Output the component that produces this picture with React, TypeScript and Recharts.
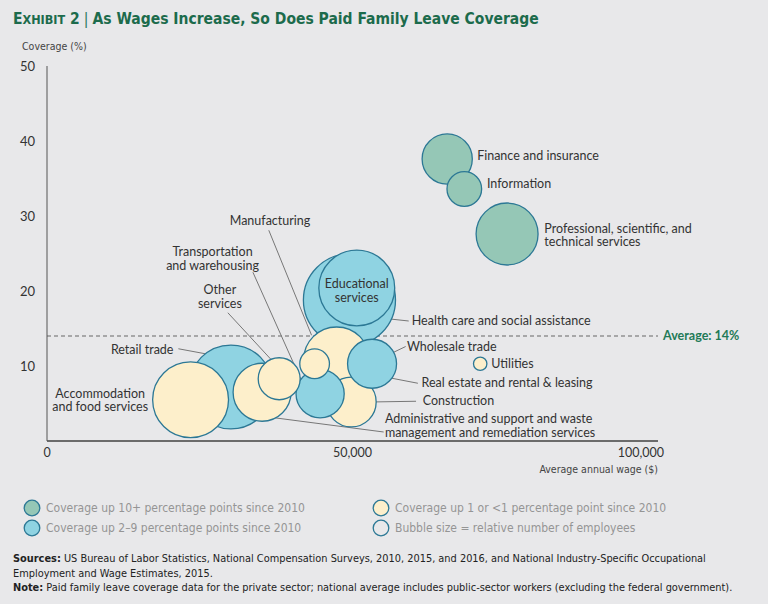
import React from 'react'
import {
  ScatterChart,
  Scatter,
  XAxis,
  YAxis,
  ZAxis,
  Cell,
  ReferenceLine,
  ReferenceDot,
} from 'recharts'

// draw order: back to front
const industries = [
  'Health care and social assistance',
  'Educational services',
  'Manufacturing',
  'Construction',
  'Transportation and warehousing',
  'Wholesale trade',
  'Real estate and rental & leasing',
  'Retail trade',
  'Accommodation and food services',
  'Administrative and support and waste management and remediation services',
  'Other services',
  'Finance and insurance',
  'Information',
  'Professional, scientific, and technical services',
  'Utilities',
]
const wages = [49500, 50700, 47400, 49800, 44700, 53200, 43800, 30100, 23500, 35200, 38000, 65500, 68300, 75300, 70900]
const coverage = [18.8, 20.4, 10.8, 5.2, 6.3, 10.3, 10.3, 7.2, 5.5, 6.5, 8.3, 37.6, 33.6, 27.6, 10.3]
// relative number of employees (bubble area)
const employees = [21.2, 14.4, 10.9, 6.2, 5.8, 6.0, 2.2, 17.6, 14.4, 8.4, 4.4, 6.3, 3.0, 9.6, 0.45]
const trend = ['2-9', '2-9', '1', '1', '2-9', '2-9', '1', '2-9', '1', '1', '1', '10+', '10+', '10+', '1']

const xTicks = [0, 50000, 100000]
const yTicks = [10, 20, 30, 40, 50]
const average = 14

const legendItems = [
  { key: '10+', text: 'Coverage up 10+ percentage points since 2010' },
  { key: '2-9', text: 'Coverage up 2–9 percentage points since 2010' },
  { key: '1', text: 'Coverage up 1 or <1 percentage point since 2010' },
  { key: 'size', text: 'Bubble size = relative number of employees' },
]

const FILL: Record<string, string> = {
  '10+': '#95c7b6',
  '2-9': '#8fd3e2',
  '1': '#fdefcb',
  size: 'none',
}
const STROKE = '#2c7895'

const FONT = 'Lato, "Open Sans", sans-serif'
const NARROW = '"Liberation Sans Narrow", "DejaVu Sans Condensed", sans-serif'

// annotation layout, in chart data coordinates
const annotations = [
  { lines: ['Finance and insurance'], x: 70400, y: 38.0, anchor: 'start' },
  { lines: ['Information'], x: 72000, y: 34.3, anchor: 'start' },
  { lines: ['Professional, scientific, and', 'technical services'], x: 81400, y: 28.3, anchor: 'start' },
  { lines: ['Health care and social assistance'], x: 59700, y: 16.0, anchor: 'start', from: [55800, 16.3], to: [59200, 16.0] },
  { lines: ['Wholesale trade'], x: 58900, y: 12.5, anchor: 'start', from: [56400, 11.7], to: [58700, 12.6] },
  { lines: ['Utilities'], x: 72700, y: 10.3, anchor: 'start' },
  { lines: ['Real estate and rental & leasing'], x: 61300, y: 7.7, anchor: 'start', from: [45400, 10.1], to: [60700, 7.7] },
  { lines: ['Construction'], x: 61500, y: 5.3, anchor: 'start', from: [52800, 5.2], to: [60400, 5.3] },
  { lines: ['Administrative and support and waste', 'management and remediation services'], x: 55300, y: 2.9, anchor: 'start', from: [37200, 3.1], to: [55100, 1.2] },
  { lines: ['Manufacturing'], x: 36500, y: 29.3, anchor: 'middle', from: [36300, 28.1], to: [43300, 14.1] },
  { lines: ['Transportation', 'and warehousing'], x: 27100, y: 25.2, anchor: 'middle', from: [33700, 22.5], to: [41600, 8.1] },
  { lines: ['Other', 'services'], x: 28300, y: 20.1, anchor: 'middle', from: [29600, 17.1], to: [37200, 10.4] },
  { lines: ['Retail trade'], x: 20700, y: 12.1, anchor: 'end', from: [21500, 12.3], to: [28100, 11.3] },
  { lines: ['Accommodation', 'and food services'], x: 8700, y: 6.3, anchor: 'middle' },
  { lines: ['Educational', 'services'], x: 50700, y: 20.9, anchor: 'middle' },
]

const points = industries.map((name, i) => ({
  name,
  wage: wages[i],
  coverage: coverage[i],
  employees: employees[i],
  trend: trend[i],
}))

function XTick(props: any) {
  const { x, y, payload, index } = props
  const last = index === xTicks.length - 1
  return (
    <text
      x={x + (last ? 6 : 0)}
      y={y + 8}
      textAnchor={last ? 'end' : 'middle'}
      fontSize={12.5}
      fill="#333"
      fontFamily={FONT}
    >
      {payload.value.toLocaleString('en-US')}
    </text>
  )
}

function makeLabel(lines: string[], anchor: string) {
  return (p: any) => (
    <text x={p.cx} y={p.cy} textAnchor={anchor} fontSize={12.5} fill="#333" fontFamily={FONT}>
      {lines.map((l, i) => (
        <tspan key={i} x={p.cx} dy={i === 0 ? 4 : 13.5}>
          {l}
        </tspan>
      ))}
    </text>
  )
}

export default function App() {
  return (
    <div
      style={{
        position: 'absolute',
        left: 0,
        top: 0,
        width: 768,
        height: 604,
        background: '#e8e8ea',
        overflow: 'hidden',
        fontFamily: FONT,
      }}
    >
      <div
        style={{
          position: 'absolute',
          left: 13,
          top: 10,
          fontFamily: NARROW,
          fontWeight: 700,
          fontSize: 15.5,
          color: '#1c6b4c',
          whiteSpace: 'nowrap',
        }}
      >
        <span>E</span>
        <span style={{ fontSize: 12.5 }}>XHIBIT</span> 2
        <span style={{ fontWeight: 400, margin: '0 4px', color: '#2a7a5a' }}>|</span>
        As Wages Increase, So Does Paid Family Leave Coverage
      </div>
      <div style={{ position: 'absolute', left: 22, top: 40, fontSize: 10.5, color: '#444', fontFamily: NARROW }}>
        Coverage (%)
      </div>
      <div style={{ position: 'absolute', right: 110, top: 463, fontSize: 10.5, color: '#444', fontFamily: NARROW }}>
        Average annual wage ($)
      </div>

      <div style={{ position: 'absolute', left: 0, top: 0 }}>
        <ScatterChart width={768} height={604} margin={{ top: 66, right: 110, bottom: 133, left: 17 }}>
          <XAxis
            type="number"
            dataKey="wage"
            domain={[0, 100000]}
            ticks={xTicks}
            tick={<XTick />}
            tickLine={false}
            axisLine={{ stroke: '#6b6b6b', strokeWidth: 2 }}
            height={30}
          />
          <YAxis
            type="number"
            dataKey="coverage"
            domain={[0, 50]}
            ticks={yTicks}
            tickLine={false}
            tickMargin={6}
            axisLine={{ stroke: '#555', strokeWidth: 1 }}
            tick={{ fontSize: 13, fill: '#333', fontFamily: FONT }}
            width={30}
          />
          <ZAxis type="number" dataKey="employees" domain={[0, 25]} range={[0, 7854]} />
          <Scatter data={points} isAnimationActive={false}>
            {points.map((p) => (
              <Cell key={p.name} fill={FILL[p.trend]} stroke={STROKE} strokeWidth={1.3} />
            ))}
          </Scatter>
          <ReferenceLine
            y={average}
            stroke="#666"
            strokeDasharray="4 3"
            label={{
              value: 'Average: 14%',
              position: 'right',
              fill: '#1f7a57',
              fontWeight: 700,
              fontSize: 12.5,
              fontFamily: FONT,
            }}
          />
          {annotations
            .filter((a) => a.from)
            .map((a, i) => (
              <ReferenceLine
                key={'l' + i}
                segment={[
                  { x: a.from![0], y: a.from![1] },
                  { x: a.to![0], y: a.to![1] },
                ]}
                stroke="#777"
                strokeWidth={1}
              />
            ))}
          {annotations.map((a, i) => (
            <ReferenceDot
              key={'t' + i}
              x={a.x}
              y={a.y}
              r={0}
              ifOverflow="visible"
              shape={makeLabel(a.lines, a.anchor)}
            />
          ))}
        </ScatterChart>
      </div>

      {legendItems.map((item, i) => (
        <div
          key={item.key}
          style={{
            position: 'absolute',
            left: i < 2 ? 23 : 372,
            top: 499 + (i % 2) * 20,
            display: 'flex',
            alignItems: 'center',
            fontFamily: NARROW,
            fontSize: 12,
            color: '#959595',
            whiteSpace: 'nowrap',
          }}
        >
          <svg width={18} height={18} style={{ marginRight: 5 }}>
            <circle cx={9} cy={9} r={7.8} fill={FILL[item.key]} stroke={STROKE} strokeWidth={1.3} />
          </svg>
          {item.text}
        </div>
      ))}

      <div
        style={{
          position: 'absolute',
          left: 13,
          top: 552,
          width: 745,
          fontFamily: NARROW,
          fontSize: 10.9,
          lineHeight: '14.5px',
          color: '#222',
        }}
      >
        <b>Sources:</b> US Bureau of Labor Statistics, National Compensation Surveys, 2010, 2015, and 2016, and National
        Industry-Specific Occupational
        <br />
        Employment and Wage Estimates, 2015.
        <br />
        <b>Note:</b> Paid family leave coverage data for the private sector; national average includes public-sector
        workers (excluding the federal government).
      </div>
    </div>
  )
}
